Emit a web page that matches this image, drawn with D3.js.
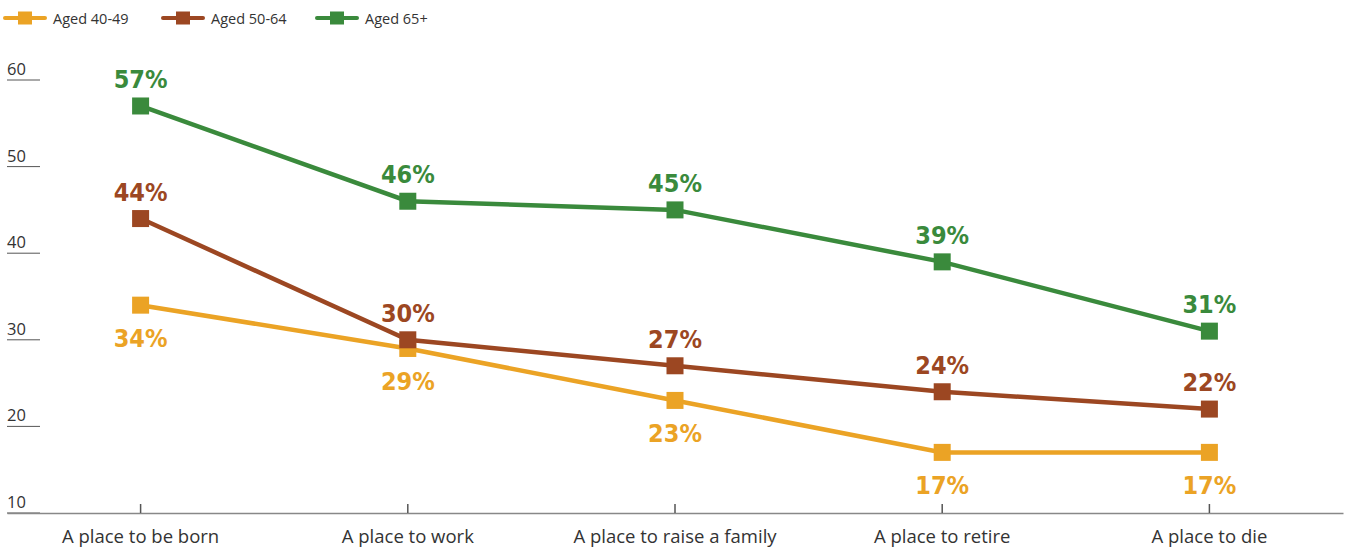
<!DOCTYPE html>
<html>
<head>
<meta charset="utf-8">
<script src="https://cdn.jsdelivr.net/npm/d3@7"></script>
<style>
  html, body { margin: 0; padding: 0; background: #fff; }
  svg { display: block; }
</style>
</head>
<body>
<svg id="chart" width="1349" height="548"></svg>
<script>
// Share of respondents by age group, per life stage
const categories = ["A place to be born", "A place to work", "A place to raise a family", "A place to retire", "A place to die"];
const seriesNames = ["Aged 40-49", "Aged 50-64", "Aged 65+"];
const aged40to49 = [34, 29, 23, 17, 17];
const aged50to64 = [44, 30, 27, 24, 22];
const aged65plus = [57, 46, 45, 39, 31];
const yTicks = [10, 20, 30, 40, 50, 60];
const colors = ["#EBA325", "#9C4722", "#3A8A3C"];
const labelBelow = [true, false, false];

const series = [aged40to49, aged50to64, aged65plus].map((values, i) => ({
  name: seriesNames[i], values, color: colors[i], below: labelBelow[i]
}));

const textFont = "'Open Sans', 'Noto Sans', sans-serif";
const svg = d3.select("#chart");
const left = 7, right = 1343;

const x = d3.scaleBand().domain(categories).range([left, right]);
const y = d3.scaleLinear().domain([10, 60]).range([513, 80]);
const cx = c => x(c) + x.bandwidth() / 2;

// Y ticks: short rules with labels sitting on them
const yg = svg.append("g");
yTicks.forEach(t => {
  yg.append("line")
    .attr("x1", left).attr("x2", 40)
    .attr("y1", y(t)).attr("y2", y(t))
    .attr("stroke", "#555").attr("stroke-width", 1);
  yg.append("text")
    .attr("x", left).attr("y", y(t) - 5)
    .attr("font-family", textFont)
    .attr("font-size", 16.5).attr("fill", "#333")
    .text(t);
});

// X axis
const xAxis = d3.axisBottom(x).tickSize(0).tickPadding(17);
const xg = svg.append("g").attr("transform", `translate(0,${y(10)})`).call(xAxis);
xg.select(".domain").attr("stroke", "#888").attr("stroke-width", 1.5);
xg.selectAll(".tick text")
  .attr("font-family", textFont)
  .attr("font-size", 18.5).attr("fill", "#333");
xg.selectAll(".tick").append("line")
  .attr("y1", 0).attr("y2", -9)
  .attr("stroke", "#555").attr("stroke-width", 1.5);

// Lines, markers and value labels
const line = d3.line().x((d, i) => cx(categories[i])).y(d => y(d));
const sg = svg.selectAll(".series").data(series).join("g").attr("class", "series");

sg.append("path")
  .attr("d", d => line(d.values))
  .attr("fill", "none")
  .attr("stroke", d => d.color)
  .attr("stroke-width", 4.5);

sg.each(function(s) {
  const g = d3.select(this);
  g.selectAll("rect").data(s.values).join("rect")
    .attr("x", (d, i) => cx(categories[i]) - 8.5)
    .attr("y", d => y(d) - 8.5)
    .attr("width", 17).attr("height", 17)
    .attr("fill", s.color);
  g.selectAll("text").data(s.values).join("text")
    .attr("x", (d, i) => cx(categories[i]))
    .attr("y", d => s.below ? y(d) + 42 : y(d) - 18)
    .attr("text-anchor", "middle")
    .attr("font-family", "'DejaVu Sans Condensed', 'DejaVu Sans', sans-serif")
    .attr("font-stretch", "condensed")
    .attr("font-weight", "bold")
    .attr("font-size", 25)
    .attr("fill", s.color)
    .text(d => d + "%");
});

// Legend
const legendX = [5, 163, 317];
const lg = svg.append("g").selectAll("g").data(series).join("g")
  .attr("transform", (d, i) => `translate(${legendX[i]},18)`);
lg.append("line").attr("x1", 0).attr("x2", 40).attr("y1", 0).attr("y2", 0)
  .attr("stroke", d => d.color).attr("stroke-width", 4).attr("stroke-linecap", "round");
lg.append("rect").attr("x", 13).attr("y", -6.5).attr("width", 14).attr("height", 13)
  .attr("fill", d => d.color);
lg.append("text").attr("x", 48).attr("y", 5.5)
  .attr("font-family", textFont)
  .attr("font-size", 14.5).attr("fill", "#333")
  .text(d => d.name);
</script>
</body>
</html>
